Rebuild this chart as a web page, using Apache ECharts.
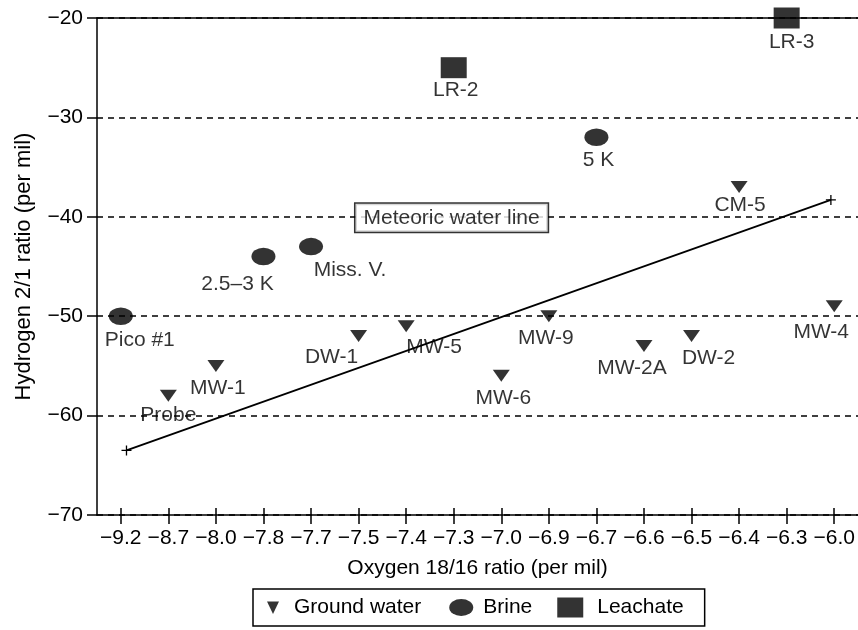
<!DOCTYPE html>
<html>
<head>
<meta charset="utf-8">
<script src="https://cdn.jsdelivr.net/npm/echarts@6/dist/echarts.min.js"></script>
<style>
  html, body { margin: 0; padding: 0; background: #fff; }
  #chart { width: 858px; height: 630px; }
</style>
</head>
<body>
<div id="chart"></div>
<script>
// ---------- data ----------
const oxygenTicks = ['−9.2', '−8.7', '−8.0', '−7.8', '−7.7', '−7.5', '−7.4', '−7.3',
                     '−7.0', '−6.9', '−6.7', '−6.6', '−6.5', '−6.4', '−6.3', '−6.0'];

const groundNames    = ['Probe', 'MW-1', 'DW-1', 'MW-5', 'MW-6', 'MW-9', 'MW-2A', 'DW-2', 'CM-5', 'MW-4'];
const groundOxygen   = ['−8.7', '−8.0', '−7.5', '−7.4', '−7.0', '−6.9', '−6.6', '−6.5', '−6.4', '−6.0'];
const groundHydrogen = [-58, -55, -52, -51, -56, -50, -53, -52, -37, -49];

const brineNames     = ['Pico #1', '2.5–3 K', 'Miss. V.', '5 K'];
const brineOxygen    = ['−9.2', '−7.8', '−7.7', '−6.7'];
const brineHydrogen  = [-50, -44, -43, -32];

const leachNames     = ['LR-2', 'LR-3'];
const leachOxygen    = ['−7.3', '−6.3'];
const leachHydrogen  = [-25, -20];

// meteoric water line end points (x as position along the category scale)
const meteoricX = [0.12, 14.93];
const meteoricY = [-63.5, -38.3];
const meteoricLabel = 'Meteoric water line';
const meteoricLabelAt = [6.955, -40.1];

// ---------- styling ----------
const FONT = "'Liberation Sans', Arial, Helvetica, sans-serif";
const FS = 21;
const labelOffsets = {
  'LR-3': [5, 24], 'LR-2': [2, 23], '5 K': [2, 23], 'CM-5': [1, 18],
  'MW-4': [-13, 26], 'MW-9': [-3, 22], 'MW-2A': [-12, 22], 'DW-2': [17, 22],
  'MW-6': [2, 22], 'MW-5': [28, 21], 'DW-1': [-27, 21], 'MW-1': [2, 22],
  'Probe': [0, 19], 'Pico #1': [19, 24], '2.5–3 K': [-26, 28], 'Miss. V.': [39, 24]
};
const triDown = 'path://M0,0 L2,0 L1,1.4 Z';
const ellipse = 'path://M0,50 A50,50 0 1 1 100,50 A50,50 0 1 1 0,50 Z';

function pts(names, xs, ys) {
  return names.map((n, i) => ({
    name: n,
    value: [xs[i], ys[i]],
    label: { offset: labelOffsets[n] || [0, 20] }
  }));
}
const ptLabel = {
  show: true, position: 'inside', color: '#000',
  fontFamily: FONT, fontSize: FS, formatter: p => p.name
};
const minus = v => String(v).replace('-', '−');

const chart = echarts.init(document.getElementById('chart'), null, { renderer: 'canvas' });
chart.setOption({
  animation: false,
  backgroundColor: '#fff',
  textStyle: { fontFamily: FONT, color: '#000' },
  grid: { left: 97, top: 18, width: 763, height: 497, containLabel: false },
  xAxis: [
    {
      type: 'category', data: oxygenTicks, position: 'bottom', boundaryGap: true,
      axisLine: { show: true, onZero: false, lineStyle: { color: '#000', width: 1.5 } },
      axisTick: { show: true, alignWithLabel: true, inside: false, length: 9,
                  lineStyle: { color: '#000', width: 1.5 } },
      axisLabel: { interval: 0, color: '#000', fontFamily: FONT, fontSize: FS, margin: 13 },
      splitLine: { show: false },
      name: 'Oxygen 18/16 ratio (per mil)', nameLocation: 'middle', nameGap: 43,
      nameTextStyle: { color: '#000', fontFamily: FONT, fontSize: FS }
    },
    {
      type: 'category', data: oxygenTicks, position: 'bottom', boundaryGap: true,
      axisLine: { show: false, onZero: false },
      axisTick: { show: true, alignWithLabel: true, inside: true, length: 7,
                  lineStyle: { color: '#000', width: 1.5 } },
      axisLabel: { show: false }, splitLine: { show: false }
    },
    {
      type: 'category', data: oxygenTicks, position: 'top', boundaryGap: true,
      axisLine: { show: true, onZero: false, lineStyle: { color: '#000', width: 1.5 } },
      axisTick: { show: false }, axisLabel: { show: false }, splitLine: { show: false }
    },
    {
      type: 'value', min: -0.5, max: 15.5, show: false, splitLine: { show: false },
      axisLine: { onZero: false }
    }
  ],
  yAxis: {
    type: 'value', min: -70, max: -20, interval: 10, position: 'left',
    axisLine: { show: true, onZero: false, lineStyle: { color: '#000', width: 1.5 } },
    axisTick: { show: true, length: 10, lineStyle: { color: '#000', width: 1.5 } },
    axisLabel: { color: '#000', fontFamily: FONT, fontSize: FS, margin: 14, formatter: minus },
    splitLine: { show: true, lineStyle: { color: '#000', width: 1.5, type: [6, 5] } },
    name: 'Hydrogen 2/1 ratio (per mil)', nameLocation: 'middle', nameGap: 62,
    nameTextStyle: { color: '#000', fontFamily: FONT, fontSize: 22 }
  },
  legend: {
    left: 253, top: 589, orient: 'horizontal',
    itemWidth: 30, itemHeight: 20, itemGap: 25,
    padding: [8, 21, 8, 6],
    borderColor: '#000', borderWidth: 1.5, backgroundColor: '#fff',
    textStyle: { color: '#000', fontFamily: FONT, fontSize: FS },
    data: [
      { name: 'Ground water', icon: 'path://M0,0 M30,20 M8,4 L20,4 L14,16.5 Z' },
      { name: 'Brine', icon: 'path://M0,0 M30,20 M3,10 A12,8.5 0 1 1 27,10 A12,8.5 0 1 1 3,10 Z',
        textStyle: { padding: [0, 0, 0, 2] } },
      { name: 'Leachate', icon: 'path://M0,0 M30,20 M0,0 L26,0 L26,20 L0,20 Z',
        textStyle: { padding: [0, 0, 0, 5] } }
    ]
  },
  series: [
    {
      name: 'Meteoric water line', type: 'line', xAxisIndex: 3, yAxisIndex: 0,
      data: meteoricX.map((x, i) => [x, meteoricY[i]]),
      symbol: 'path://M5,0 L5,10 M0,5 L10,5', symbolSize: 10, showSymbol: true,
      itemStyle: { color: 'rgba(0,0,0,0)', borderColor: '#000', borderWidth: 1.3 },
      lineStyle: { color: '#000', width: 1.8 }, z: 3, silent: true
    },
    {
      name: 'meteoric label', type: 'scatter', xAxisIndex: 3, yAxisIndex: 0,
      data: [{ name: meteoricLabel, value: meteoricLabelAt }],
      symbolSize: 1, itemStyle: { color: 'rgba(0,0,0,0)' }, z: 4, silent: true,
      label: {
        show: true, position: 'inside', color: '#000', fontFamily: FONT, fontSize: FS,
        formatter: p => p.name, backgroundColor: '#fff', borderColor: '#000', borderWidth: 1.5,
        padding: [4, 8, 3, 8]
      }
    },
    {
      name: 'Ground water', type: 'scatter', xAxisIndex: 0, yAxisIndex: 0,
      data: pts(groundNames, groundOxygen, groundHydrogen),
      symbol: triDown, symbolSize: [17, 12], itemStyle: { color: '#000' },
      label: ptLabel, z: 5
    },
    {
      name: 'Brine', type: 'scatter', xAxisIndex: 0, yAxisIndex: 0,
      data: pts(brineNames, brineOxygen, brineHydrogen),
      symbol: ellipse, symbolSize: [24, 17.5], itemStyle: { color: '#000' },
      label: ptLabel, z: 5
    },
    {
      name: 'Leachate', type: 'scatter', xAxisIndex: 0, yAxisIndex: 0,
      data: pts(leachNames, leachOxygen, leachHydrogen),
      symbol: 'rect', symbolSize: [26, 21], itemStyle: { color: '#000' },
      label: ptLabel, z: 5
    }
  ]
});
</script>
</body>
</html>
